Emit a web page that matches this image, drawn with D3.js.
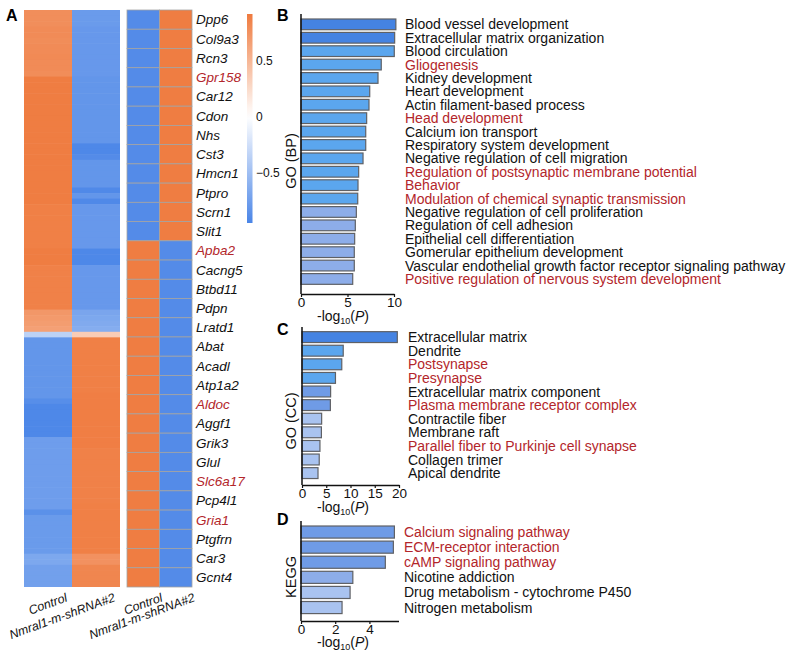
<!DOCTYPE html>
<html><head><meta charset="utf-8">
<script src="https://cdn.jsdelivr.net/npm/d3@7"></script>
<style>body{margin:0;background:#fff;} svg{display:block;font-family:Arial,"Liberation Sans",sans-serif;}</style>
</head><body><svg id="c" width="797" height="654"></svg>
<script>
// ---------------- DATA ----------------
const samples = ["Control", "Nmral1-m-shRNA#2"];

// all differentially expressed genes (row-scaled), top to bottom
const allCtrl = [0.78,0.78,0.78,
  0.80,0.80,0.79,0.80,0.80,0.81,0.80,0.80,0.79,
  0.90,0.90,0.90,0.90,0.90,0.90,0.90,0.90,0.90,0.90,0.90,
  0.90,0.90,0.90,0.90,0.90,0.90,0.90,0.90,0.90,0.90,0.90,0.90,
  0.88,0.88,0.88,0.88,0.88,0.88,0.88,0.88,
  0.90,0.90,0.90,
  0.87,0.87,0.87,0.87,0.87,0.87,0.87,0.87,
  0.72,0.70,0.68,0.66,
  -0.35,
  -0.82,-0.82,-0.82,-0.82,-0.82,-0.82,-0.82,-0.82,-0.82,-0.82,-0.82,
  -0.88,
  -0.93,-0.93,-0.93,-0.93,-0.93,-0.93,
  -0.76,-0.76,-0.76,-0.76,-0.76,-0.76,-0.76,-0.76,-0.76,-0.76,-0.76,-0.76,-0.76,
  -0.86,
  -0.78,-0.78,-0.78,-0.78,-0.78,-0.78,-0.78,
  -0.68,-0.68,
  -0.74,-0.74,-0.74,-0.74];
const allSh = [-0.78,-0.78,-0.78,
  -0.80,-0.80,-0.80,-0.80,-0.80,-0.80,-0.80,-0.80,-0.80,
  -0.82,-0.82,-0.82,-0.82,-0.82,-0.82,-0.82,-0.82,-0.82,-0.82,-0.82,-0.82,
  -0.93,-0.93,
  -0.90,
  -0.82,-0.82,-0.82,-0.82,-0.82,
  -0.92,
  -0.82,
  -0.92,
  -0.80,-0.80,-0.80,-0.80,-0.80,-0.80,-0.80,-0.80,
  -0.93,-0.93,-0.93,
  -0.80,-0.80,-0.80,-0.80,-0.80,-0.80,-0.80,-0.80,
  -0.70,-0.68,-0.66,-0.64,
  0.35,
  0.88,0.88,0.88,0.88,0.88,0.88,0.88,0.88,0.88,0.88,
  0.89,0.89,0.89,0.89,0.89,0.89,0.89,0.89,0.89,0.89,
  0.87,0.87,0.87,0.87,0.87,0.87,0.87,0.87,0.87,0.87,
  0.88,0.88,0.88,0.88,0.88,0.88,0.88,0.88,0.88,
  0.76,0.76,
  0.84,0.84,0.84,0.84];

// selected genes
const genes = ["Dpp6","Col9a3","Rcn3","Gpr158","Car12","Cdon","Nhs","Cst3","Hmcn1","Ptpro","Scrn1","Slit1",
  "Apba2","Cacng5","Btbd11","Pdpn","Lratd1","Abat","Acadl","Atp1a2","Aldoc","Aggf1","Grik3","Glul","Slc6a17","Pcp4l1","Gria1","Ptgfrn","Car3","Gcnt4"];
const geneCtrl = [-0.9,-0.9,-0.9,-0.9,-0.9,-0.9,-0.9,-0.9,-0.9,-0.9,-0.9,-0.9,
  0.9,0.9,0.9,0.9,0.9,0.9,0.9,0.9,0.9,0.9,0.9,0.9,0.9,0.9,0.9,0.9,0.9,0.9];
const geneSh = [0.9,0.9,0.9,0.9,0.9,0.9,0.9,0.9,0.9,0.9,0.9,0.9,
  -0.9,-0.9,-0.9,-0.9,-0.9,-0.9,-0.9,-0.9,-0.9,-0.9,-0.9,-0.9,-0.9,-0.9,-0.9,-0.9,-0.9,-0.9];
const highlightGenes = ["Gpr158","Apba2","Aldoc","Slc6a17","Gria1"];
const colorTicks = [0.5, 0, -0.5];

// GO BP
const bpTerms = ["Blood vessel development","Extracellular matrix organization","Blood circulation","Gliogenesis",
  "Kidney development","Heart development","Actin filament-based process","Head development","Calcium ion transport",
  "Respiratory system development","Negative regulation of cell migration","Regulation of postsynaptic membrane potential",
  "Behavior","Modulation of chemical synaptic transmission","Negative regulation of cell proliferation",
  "Regulation of cell adhesion","Epithelial cell differentiation","Gomerular epithelium development",
  "Vascular endothelial growth factor receptor signaling pathway","Positive regulation of nervous system development"];
const bpValues = [10.2,10.07,10.03,8.63,8.28,7.39,7.31,7.06,6.96,6.96,6.67,6.2,6.13,6.1,5.95,5.84,5.77,5.73,5.73,5.56];
const bpCounts = [40,40,30,30,30,30,30,30,30,30,30,30,30,30,16,16,16,16,16,16];
const bpHighlight = ["Gliogenesis","Head development","Regulation of postsynaptic membrane potential","Behavior",
  "Modulation of chemical synaptic transmission","Positive regulation of nervous system development"];
const bpTicks = [0,5,10];

// GO CC
const ccTerms = ["Extracellular matrix","Dendrite","Postsynapse","Presynapse","Extracellular matrix component",
  "Plasma membrane receptor complex","Contractile fiber","Membrane raft","Parallel fiber to Purkinje cell synapse",
  "Collagen trimer","Apical dendrite"];
const ccValues = [19.65,8.5,8.2,6.9,5.9,5.85,4.05,4.0,3.7,3.55,3.3];
const ccCounts = [40,30,30,30,22,22,11,11,11,11,11];
const ccHighlight = ["Postsynapse","Presynapse","Plasma membrane receptor complex","Parallel fiber to Purkinje cell synapse"];
const ccTicks = [0,5,10,15,20];

// KEGG
const keggTerms = ["Calcium signaling pathway","ECM-receptor interaction","cAMP signaling pathway","Nicotine addiction",
  "Drug metabolism - cytochrome P450","Nitrogen metabolism"];
const keggValues = [5.46,5.4,4.93,3.03,2.87,2.4];
const keggCounts = [22,22,22,16,11,11];
const keggHighlight = ["Calcium signaling pathway","ECM-receptor interaction","cAMP signaling pathway"];
const keggTicks = [0,2,4];

// ---------------- DRAW ----------------
const svg = d3.select("#c");
const RED = "#b3262b";
const heat = d3.scaleLinear().domain([-0.95, 0, 0.92]).range(["#4a85e7", "#ffffff", "#ef7a3e"]).clamp(true);
const barColor = d3.scaleLinear().domain([11,16,22,30,40])
  .range(["#a9c3f0","#8dade9","#6f9be6","#5ba6ee","#4583e2"]);

// panel letters
[["A",6,21],["B",277,21],["C",277,335],["D",277,525]].forEach(([t,x,y]) =>
  svg.append("text").attr("x",x).attr("y",y).attr("font-size",16).attr("font-weight","bold").text(t));

// ---- left heatmap
const xL = d3.scaleBand().domain(samples).range([24,120]);
const yL = d3.scaleBand().domain(d3.range(allCtrl.length)).range([10,587]);
const gL = svg.append("g");
[allCtrl, allSh].forEach((arr, si) => {
  gL.selectAll(null).data(arr).join("rect")
    .attr("x", xL(samples[si])).attr("width", xL.bandwidth())
    .attr("y", (d,i) => yL(i)).attr("height", (d,i) => i === arr.length - 1 ? yL.bandwidth() : yL.bandwidth() + 0.6)
    .attr("fill", d => heat(d));
});

// ---- right heatmap
const xR = d3.scaleBand().domain(samples).range([127,192]);
const yR = d3.scaleBand().domain(genes).range([10,587]);
const gR = svg.append("g");
[geneCtrl, geneSh].forEach((arr, si) => {
  gR.selectAll(null).data(arr).join("rect")
    .attr("x", xR(samples[si])).attr("width", xR.bandwidth())
    .attr("y", (d,i) => yR(genes[i])).attr("height", yR.bandwidth())
    .attr("fill", d => heat(d)).attr("stroke", "#a3a3a3").attr("stroke-width", 0.8);
});
svg.append("g").selectAll("text").data(genes).join("text")
  .attr("x", 196).attr("y", d => yR(d) + yR.bandwidth()/2).attr("dy","0.36em")
  .attr("font-size", 13.5).attr("font-style","italic")
  .attr("fill", d => highlightGenes.includes(d) ? RED : "#111").text(d => d);

// sample labels
[xL, xR].forEach(xs => {
  samples.forEach(s => {
    const cx = xs(s) + xs.bandwidth()/2 + 20;
    svg.append("text").attr("transform", `translate(${cx},601) rotate(-20)`)
      .attr("text-anchor","end").attr("font-size",12.4).attr("font-style","italic").attr("fill","#111").text(s);
  });
});

// colour bar
const cbY = d3.scaleLinear().domain([0.92, -0.95]).range([14, 223]);
const defs = svg.append("defs");
const grad = defs.append("linearGradient").attr("id","cb").attr("x1",0).attr("y1",0).attr("x2",0).attr("y2",1);
d3.range(0, 1.0001, 0.05).forEach(t => {
  grad.append("stop").attr("offset", t).attr("stop-color", heat(cbY.invert(14 + t*209)));
});
svg.append("rect").attr("x",247).attr("y",14).attr("width",5.5).attr("height",209).attr("fill","url(#cb)");
svg.append("g").selectAll("text").data(colorTicks).join("text")
  .attr("x", 256).attr("y", d => cbY(d)).attr("dy","0.35em")
  .attr("font-size",12).attr("fill","#111").text(d => d < 0 ? "\u22120.5" : String(d));

// ---- bar panels
function barPanel(cfg) {
  const {terms, values, counts, highlight, ticks, domain, xRange, r0, step, axisTop, axisY, labelX, title, titleY} = cfg;
  const x = d3.scaleLinear().domain(domain).range(xRange);
  const y = d3.scaleBand().domain(terms).range([r0, r0 + step*terms.length]).paddingInner(0.2).paddingOuter(0.1);
  const g = svg.append("g");
  g.selectAll("rect").data(terms).join("rect")
    .attr("x", x(0)).attr("y", d => y(d)).attr("height", y.bandwidth())
    .attr("width", (d,i) => x(values[i]) - x(0))
    .attr("fill", (d,i) => barColor(counts[i])).attr("stroke","#5f6166").attr("stroke-width",1.2);
  g.selectAll("text.term").data(terms).join("text").attr("class","term")
    .attr("x", labelX).attr("y", d => y(d) + y.bandwidth()/2).attr("dy","0.36em")
    .attr("font-size",14).attr("fill", d => highlight.includes(d) ? RED : "#111").text(d => d);
  g.append("line").attr("x1", x(0)).attr("x2", x(0)).attr("y1", axisTop).attr("y2", axisY)
    .attr("stroke","#111").attr("stroke-width",1.5);
  const ax = g.append("g").attr("transform", `translate(0,${axisY})`)
    .call(d3.axisBottom(x).tickValues(ticks).tickSize(3).tickSizeOuter(0).tickPadding(0).tickFormat(d3.format("d")));
  ax.select(".domain").attr("stroke","#111").attr("stroke-width",1.5);
  ax.selectAll(".tick line").attr("stroke","#111").attr("stroke-width",1.2);
  ax.selectAll(".tick text").attr("font-size",13.5).attr("font-family","Arial, Liberation Sans, sans-serif").attr("fill","#111");
  const t = g.append("text").attr("x", 343).attr("y", titleY).attr("text-anchor","middle").attr("font-size",14).attr("fill","#111");
  t.append("tspan").text("-log");
  t.append("tspan").attr("font-size",9).attr("dy",3).text("10");
  t.append("tspan").attr("dy",-3).text("(");
  t.append("tspan").attr("font-style","italic").text("P");
  t.append("tspan").text(")");
  g.append("text").attr("transform", `translate(296,${title[1]}) rotate(-90)`)
    .attr("text-anchor","middle").attr("font-size",14.5).attr("fill","#111").text(title[0]);
}

barPanel({terms: bpTerms, values: bpValues, counts: bpCounts, highlight: bpHighlight, ticks: bpTicks,
  domain:[0,10], xRange:[301,394], r0:17.66, step:13.4, axisTop:14, axisY:294, labelX:405,
  title:["GO (BP)",161], titleY:321});
barPanel({terms: ccTerms, values: ccValues, counts: ccCounts, highlight: ccHighlight, ticks: ccTicks,
  domain:[0,20], xRange:[302,399], r0:330.3, step:13.6, axisTop:327, axisY:485, labelX:408,
  title:["GO (CC)",421], titleY:512});
barPanel({terms: keggTerms, values: keggValues, counts: keggCounts, highlight: keggHighlight, ticks: keggTicks,
  domain:[0,5.7], xRange:[301,398.5], r0:524.5, step:15.1, axisTop:521, axisY:621, labelX:404,
  title:["KEGG",577], titleY:647});
</script></body></html>
